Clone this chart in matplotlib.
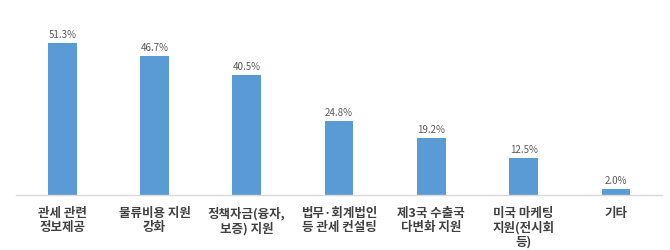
import matplotlib.pyplot as plt

plt.rcParams['font.family'] = ['Noto Sans CJK KR', 'DejaVu Sans']

# --- data ---
categories = ["관세 관련\n정보제공", "물류비용 지원\n강화", "정책자금(융자,\n보증) 지원",
              "법무·회계법인\n등 관세 컨설팅", "제3국 수출국\n다변화 지원",
              "미국 마케팅\n지원(전시회\n등)", "기타"]
values = [51.3, 46.7, 40.5, 24.8, 19.2, 12.5, 2.0]

# --- plot ---
fig = plt.figure(figsize=(6.7, 2.51), dpi=100)
ax = fig.add_axes([0.024, 0.219, 0.964, 0.71])

x = range(len(values))
ax.bar(x, values, width=0.31, color='#5B9BD5', zorder=2)

for xi, v in zip(x, values):
    ax.text(xi, v + 1.4, f"{v:.1f}%", ha='center', va='bottom',
            fontsize=7, color='#595959')

ax.set_xlim(-0.5, len(values) - 0.5)
ax.set_ylim(0, 60)
ax.set_yticks([])
ax.set_xticks(list(x))
ax.set_xticklabels(categories, fontsize=9, fontweight='bold', color='#404040',
                   linespacing=1.1, va='top')
ax.tick_params(axis='x', length=0, pad=8)

for s in ['top', 'right', 'left']:
    ax.spines[s].set_visible(False)
ax.spines['bottom'].set_color('#D9D9D9')
ax.spines['bottom'].set_linewidth(1)

fig.savefig("out.png", dpi=100)
